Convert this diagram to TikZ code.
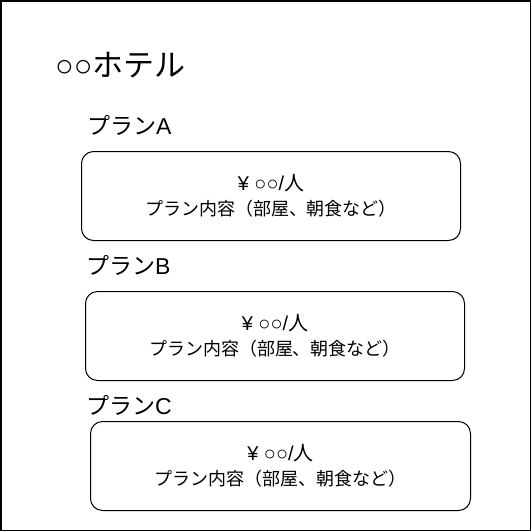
\documentclass[tikz,border=0pt]{standalone}
\usepackage{fontspec}
\setmainfont{Liberation Sans}
\newfontfamily\jp{Noto Sans CJK JP}
\tikzset{
  planbox/.style={draw, line width=1pt, rounded corners=12pt, minimum width=379pt, minimum height=89pt, anchor=north west, inner sep=0pt},
  plantitle/.style={anchor=west, inner sep=0pt, font=\fontsize{23}{26}\selectfont},
  boxtext/.style={align=center, inner sep=0pt, font=\fontsize{18}{25}\selectfont}
}
\newcommand{\boxcontent}{{\fontsize{20}{22}\selectfont ¥ ○○/{\jp 人}}\\{\jp プラン内容（部屋、朝食など）}}
\begin{document}
\begin{tikzpicture}[x=1pt,y=-1pt]
\useasboundingbox (0,0) rectangle (531,531);
\draw[line width=1.5pt] (0.75,0.75) rectangle (530.25,530.25);
\node[anchor=west, inner sep=0pt, font=\fontsize{31}{34}\selectfont] (title) at (55,65) {○○{\jp ホテル}};
\node[plantitle] (la) at (87,125) {{\jp プラン}A};
\node[planbox] (ba) at (81,151) {};
\node[boxtext] (ta) at (ba.center) {\boxcontent};
\node[plantitle] (lb) at (86,265) {{\jp プラン}B};
\node[planbox] (bb) at (85,291) {};
\node[boxtext] (tb) at (bb.center) {\boxcontent};
\node[plantitle] (lc) at (86,405) {{\jp プラン}C};
\node[planbox, minimum width=380pt] (bc) at (90,421) {};
\node[boxtext] (tc) at (bc.center) {\boxcontent};
\end{tikzpicture}
\end{document}
